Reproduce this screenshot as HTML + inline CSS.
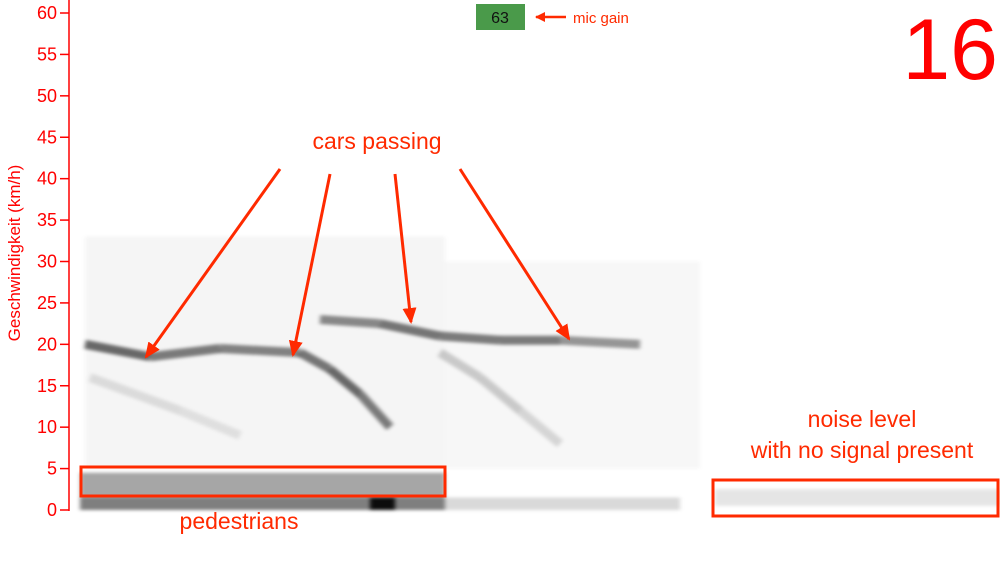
<!DOCTYPE html>
<html><head><meta charset="utf-8"><style>
html,body{margin:0;padding:0;background:#fff;width:1000px;height:561px;overflow:hidden}
svg{display:block}
text{font-family:"Liberation Sans",sans-serif}
</style></head><body>
<svg id="chart" width="1000" height="561">
<defs>
<filter id="blur" x="-10%" y="-50%" width="120%" height="200%"><feGaussianBlur stdDeviation="2 1.5"/></filter>
<marker id="ah" markerWidth="16" markerHeight="14" refX="14" refY="7" orient="auto" markerUnits="userSpaceOnUse"><path d="M0,0 L16,7 L0,14 z" fill="#ff2a00"/></marker>
<marker id="ah2" markerWidth="10" markerHeight="10" refX="9" refY="5" orient="auto" markerUnits="userSpaceOnUse"><path d="M0,0 L10,5 L0,10 z" fill="#ff2a00"/></marker>
</defs>
<g id="marks" filter="url(#blur)"></g>
<g id="axis"></g>
</svg>
<script>
const yTicks=[0,5,10,15,20,25,30,35,40,45,50,55,60];
// car tracks: [time(px), speed, darkness]
const track1=[[85,20,0.6],[150,18.5,0.55],[220,19.5,0.45],[300,19,0.5],[330,17,0.55],[360,14,0.6],[390,10,0.4]];
const track2=[[320,23,0.35],[380,22.5,0.55],[440,21,0.5],[500,20.5,0.5],[560,20.5,0.5],[640,20,0.3]];
const track3=[[90,16,0.12],[180,12,0.1],[240,9,0.08]];
const track4=[[440,19,0.18],[480,16,0.2],[520,12,0.18],[560,8,0.1]];
// low-speed bands: [x0,x1,speedLow,speedHigh,darkness]
const bands=[[80,445,1.5,4.5,0.35],[80,445,0,1.5,0.5],[445,680,0,1.5,0.15],[715,1000,0.5,2.5,0.1],[370,395,0,1.5,0.9],[85,445,5,33,0.04],[445,700,5,30,0.03]];
const y=v=>510-v*(497/60);
const NS="http://www.w3.org/2000/svg";
const marks=document.getElementById('marks');
function mk(tag,attrs,parent){const e=document.createElementNS(NS,tag);for(const k in attrs)e.setAttribute(k,attrs[k]);parent.appendChild(e);return e;}
bands.forEach(b=>{
  const r=mk('rect',{x:b[0],y:y(b[3]),width:b[1]-b[0],height:y(b[2])-y(b[3]),fill:'#000','fill-opacity':b[4]},marks);
  
  
});
[track1,track2,track3,track4].forEach(t=>{
  for(let i=0;i<t.length-1;i++){
    const l=mk('line',{x1:t[i][0],y1:y(t[i][1]),x2:t[i+1][0],y2:y(t[i+1][1]),stroke:'#000','stroke-opacity':(t[i][2]+t[i+1][2])/2,'stroke-width':9},marks);
    
    
  }
});
const ax=document.getElementById('axis');
const al=mk('line',{x1:69,y1:0,x2:69,y2:511,stroke:'#ff0000','stroke-width':1.5},ax);


yTicks.forEach(v=>{
  const tk=mk('line',{x1:60,y1:y(v),x2:69,y2:y(v),stroke:'#ff0000','stroke-width':1.5},ax);
  
  
  const tx=mk('text',{x:57,y:y(v)+6,'text-anchor':'end','font-size':18,fill:'#ff0000'},ax);
  tx.textContent=v;
  
  
});
</script>
<svg width="1000" height="561" style="position:absolute;left:0;top:0">
<text x="20" y="253" transform="rotate(-90 20 253)" text-anchor="middle" font-size="17" fill="#ff0000">Geschwindigkeit (km/h)</text>
<rect x="476" y="4" width="49" height="26" fill="#4a9a4a"/>
<text x="500" y="23" text-anchor="middle" font-size="16" fill="#111">63</text>
<line x1="566" y1="17" x2="536" y2="17" stroke="#ff2a00" stroke-width="2.5" marker-end="url(#ah2)"/>
<text x="573" y="23" font-size="15" fill="#ff2a00">mic gain</text>
<text x="998" y="79" text-anchor="end" font-size="86" fill="#ff0000">16</text>
<text x="377" y="149" text-anchor="middle" font-size="23" fill="#ff2a00">cars passing</text>
<g stroke="#ff2a00" stroke-width="3" marker-end="url(#ah)">
<line x1="280" y1="169" x2="146" y2="357"/>
<line x1="330" y1="174" x2="293" y2="355"/>
<line x1="395" y1="174" x2="411" y2="322"/>
<line x1="460" y1="169" x2="569" y2="339"/>
</g>
<rect x="81" y="467" width="364" height="29" fill="none" stroke="#ff2a00" stroke-width="3"/>
<text x="239" y="529" text-anchor="middle" font-size="23" fill="#ff2a00">pedestrians</text>
<text x="862" y="427" text-anchor="middle" font-size="23" fill="#ff2a00">noise level</text>
<text x="862" y="458" text-anchor="middle" font-size="23" fill="#ff2a00">with no signal present</text>
<rect x="713" y="480" width="285" height="36" fill="none" stroke="#ff2a00" stroke-width="3"/>
</svg>
</body></html>
